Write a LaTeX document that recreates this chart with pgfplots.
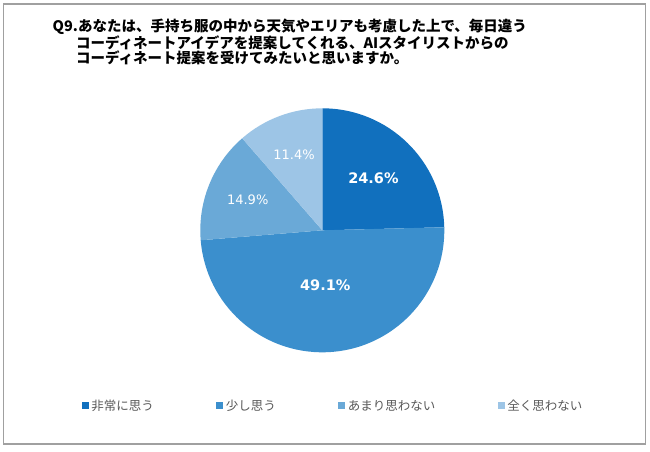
\documentclass[border=0pt]{standalone}
\usepackage{pgfplots}
\usepackage{pgfplotstable}
\pgfplotsset{compat=1.18}
\usepackage{fontspec}
\setmainfont{Noto Sans CJK JP}
\newfontfamily\numfont{DejaVu Sans}
\definecolor{slice0}{RGB}{17,112,190}
\definecolor{slice1}{RGB}{59,143,205}
\definecolor{slice2}{RGB}{106,169,215}
\definecolor{slice3}{RGB}{157,197,230}
\definecolor{legtext}{RGB}{89,89,89}
\definecolor{frame}{RGB}{160,160,160}

% share (%), label radius as fraction of R, bold flag
\pgfplotstableread{
name  value rfrac bold
a     24.6  0.60  1
b     49.1  0.45  1
c     14.9  0.66  0
d     11.4  0.66  0
}\piedata

\begin{document}
\begin{tikzpicture}
\fill[white] (0pt,0pt) rectangle (650pt,451pt);
\draw[frame, line width=1.2pt] (3.5pt,447pt) rectangle (645.5pt,7pt);

\node[anchor=west, inner sep=0, font=\fontsize{14.5}{16.5}\selectfont\bfseries] at (52.5pt,424pt)
  {Q9.あなたは、手持ち服の中から天気やエリアも考慮した上で、毎日違う};
\node[anchor=west, inner sep=0, font=\fontsize{14.5}{16.5}\selectfont\bfseries] at (76pt,408pt)
  {コーディネートアイデアを提案してくれる、AIスタイリストからの};
\node[anchor=west, inner sep=0, font=\fontsize{14.5}{16.5}\selectfont\bfseries] at (76pt,393pt)
  {コーディネート提案を受けてみたいと思いますか。};

\begin{axis}[
    at={(322.3pt,220.7pt)}, anchor=origin,
    hide axis, scale only axis, clip=false,
    width=244pt, height=244pt,
    xmin=-1, xmax=1, ymin=-1, ymax=1,
    legend columns=4,
    legend image code/.code={\fill[#1, draw=none] (0pt,-3.5pt) rectangle (7pt,3.5pt);},
    legend style={
        at={(0.545,-0.219)}, anchor=center, draw=none, fill=none,
        font=\fontsize{12.5}{14}\selectfont, text=legtext,
        nodes={inner sep=2.5pt},
        /tikz/every even column/.append style={column sep=60pt},
    },
]
\addlegendimage{fill=slice0}\addlegendentry{非常に思う}
\addlegendimage{fill=slice1}\addlegendentry{少し思う}
\addlegendimage{fill=slice2}\addlegendentry{あまり思わない}
\addlegendimage{fill=slice3}\addlegendentry{全く思わない}

\pgfplotsextra{
  \gdef\cumangle{90}
  \pgfplotstableforeachcolumnelement{value}\of\piedata\as\val{%
    \edef\r{\pgfplotstablerow}%
    \pgfmathsetmacro\sa{\cumangle}%
    \pgfmathsetmacro\ea{\cumangle-3.6*\val}%
    \pgfmathsetmacro\ma{(\sa+\ea)/2}%
    \pgfplotstablegetelem{\r}{rfrac}\of\piedata\let\rf\pgfplotsretval
    \pgfplotstablegetelem{\r}{bold}\of\piedata\let\isbold\pgfplotsretval
    \fill[slice\r] (axis cs:0,0) -- (axis cs:{cos(\sa)},{sin(\sa)})
      arc[start angle=\sa, end angle=\ea, radius=122pt] -- cycle;
    \node[text=white, inner sep=0] at (axis cs:{\rf*cos(\ma)},{\rf*sin(\ma)})
      {\numfont\ifnum\isbold=1 \fontsize{14.5}{16}\selectfont\bfseries\else\fontsize{13}{15}\selectfont\fi \val\%};
    \xdef\cumangle{\ea}%
  }
}
\end{axis}
\end{tikzpicture}
\end{document}
